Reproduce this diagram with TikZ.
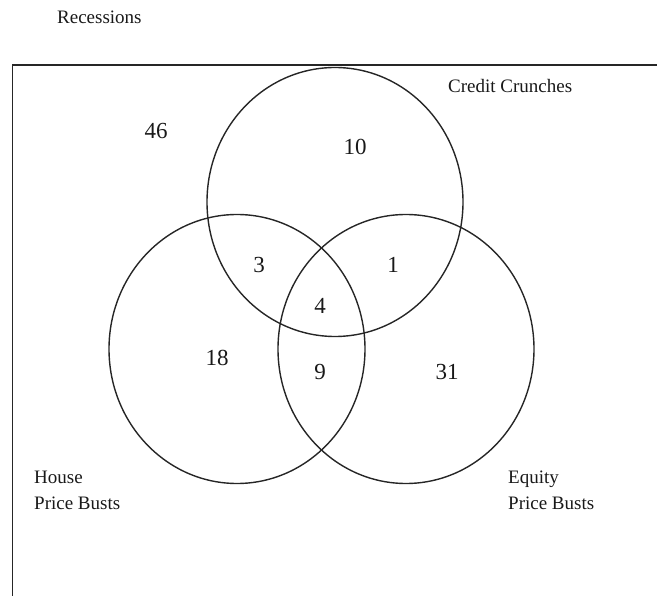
\documentclass[tikz,border=0pt]{standalone}
\usepackage{fontspec}
\setmainfont{Liberation Serif}
\usetikzlibrary{shapes.geometric}
\begin{document}
\begin{tikzpicture}[x=1pt,y=-1pt,
  setbox/.style={draw=black!85, line width=1.4pt, ellipse, minimum width=256pt, minimum height=269pt, inner sep=0pt},
  lab/.style={font=\fontsize{19}{19}\selectfont, text=black!90, inner sep=0pt, anchor=base west},
  num/.style={font=\fontsize{23}{23}\selectfont, text=black!90, inner sep=0pt}]
\useasboundingbox (0,0) rectangle (657,596);
\clip (0,0) rectangle (657,596);
\draw[black!85, line width=1.6pt] (12.5,65) rectangle (680,620);
\node[setbox] (credit) at (335,202) {};
\node[setbox] (house) at (237,349) {};
\node[setbox] (equity) at (406,349) {};
\node[lab] (rec) at (57,24) {Recessions};
\node[lab] (cc) at (448,93) {Credit Crunches};
\node[lab] (h1) at (34,483) {House};
\node[lab] (h2) at (34,510) {Price Busts};
\node[lab] (e1) at (508,483) {Equity};
\node[lab] (e2) at (508,510) {Price Busts};
\node[num] (n46) at (156,131) {46};
\node[num] (n10) at (355,147) {10};
\node[num] (n3) at (259,265) {3};
\node[num] (n1) at (393,265) {1};
\node[num] (n4) at (320,306) {4};
\node[num] (n18) at (217,358) {18};
\node[num] (n9) at (320,372) {9};
\node[num] (n31) at (447,372) {31};
\end{tikzpicture}
\end{document}
